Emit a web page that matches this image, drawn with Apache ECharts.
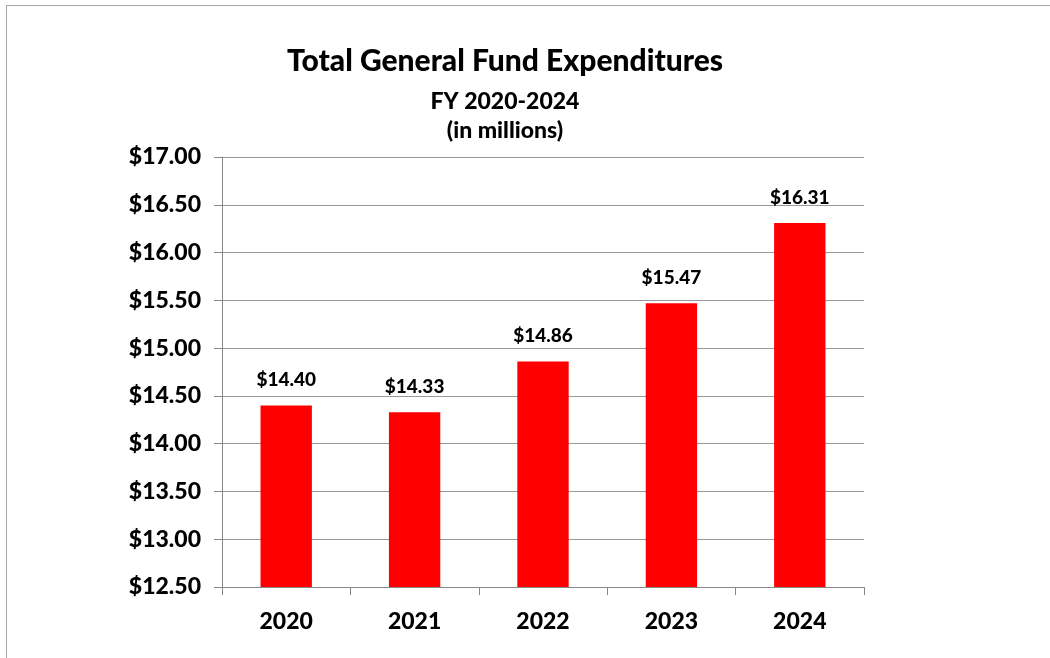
<!DOCTYPE html>
<html><head><meta charset="utf-8">
<script src="https://cdn.jsdelivr.net/npm/echarts@6/dist/echarts.min.js"></script>
<style>html,body{margin:0;padding:0;background:#fff}#c{width:1050px;height:658px}
#frame{position:absolute;left:6px;top:5px;width:1100px;height:700px;border:1.5px solid #a6a6a6;pointer-events:none}</style>
</head><body><div id="c"></div><div id="frame"></div>
<script>
const categories = ['2020','2021','2022','2023','2024'];
const values = [14.40, 14.33, 14.86, 15.47, 16.31];
const titleText = 'Total General Fund Expenditures';
const subtitleLines = ['FY 2020-2024', '(in millions)'];
const F = 'Lato, "Open Sans", sans-serif';
const W = 900;
const chart = echarts.init(document.getElementById('c'));
chart.setOption({
  animation: false,
  title: [
    {text: titleText, left: 500, top: 41, textAlign: 'center',
     textStyle: {fontFamily: F, fontSize: 30, fontWeight: W, color: '#000'}},
    {text: subtitleLines.join('\n'), left: 500, top: 82, textAlign: 'center',
     textStyle: {fontFamily: F, fontSize: 23, fontWeight: W, color: '#000', lineHeight: 29}}
  ],
  grid: {left: 222, right: 186, top: 157, bottom: 71},
  xAxis: {
    type: 'category', data: categories,
    axisLine: {lineStyle: {color: '#888', width: 1}},
    axisTick: {show: true, length: 8, lineStyle: {color: '#888'}},
    axisLabel: {fontFamily: F, fontSize: 23, fontWeight: W, color: '#000', margin: 23}
  },
  yAxis: {
    type: 'value', min: 12.5, max: 17, interval: 0.5,
    axisLine: {show: true, lineStyle: {color: '#888', width: 1}},
    axisTick: {show: true, length: 8, lineStyle: {color: '#888'}},
    splitLine: {lineStyle: {color: '#999', width: 1}},
    axisLabel: {fontFamily: F, fontSize: 23, fontWeight: W, color: '#000', margin: 21,
      formatter: v => '$' + v.toFixed(2)}
  },
  series: [{
    type: 'bar', data: values, barWidth: '40%',
    itemStyle: {color: '#ff0000'},
    label: {show: true, position: 'top', distance: 16, fontFamily: F, fontSize: 19,
      fontWeight: W, color: '#000', formatter: p => '$' + p.value.toFixed(2)}
  }]
});
</script></body></html>
